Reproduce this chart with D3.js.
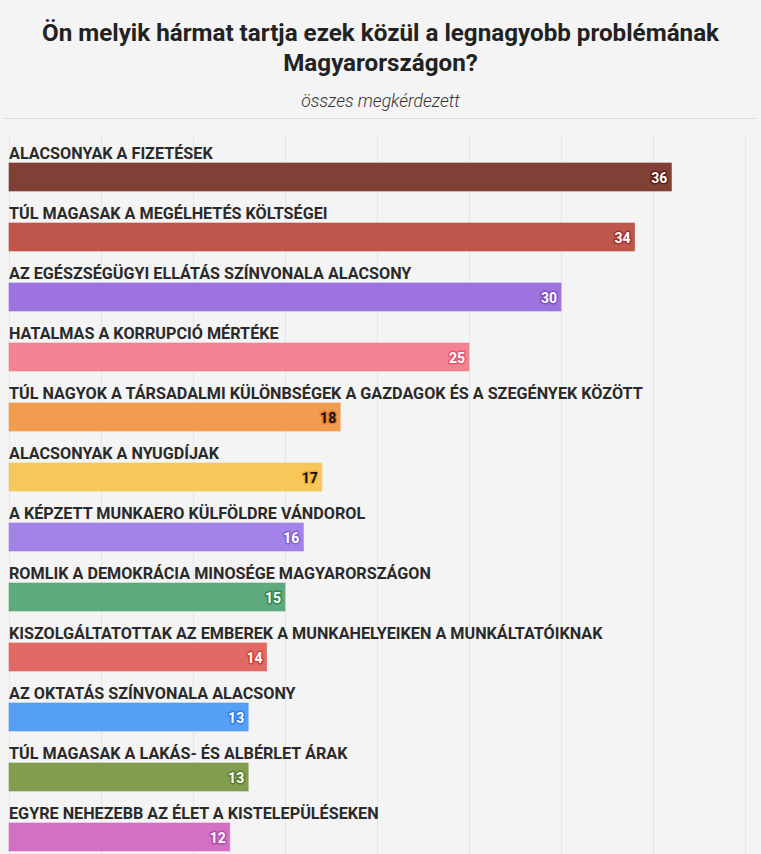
<!DOCTYPE html>
<html><head><meta charset="utf-8">
<script src="https://cdn.jsdelivr.net/npm/d3@7"></script>
<style>
html,body{margin:0;padding:0;background:#f4f4f4;}
svg{display:block;}
</style></head>
<body>
<script>
const categories = [
  "ALACSONYAK A FIZETÉSEK",
  "TÚL MAGASAK A MEGÉLHETÉS KÖLTSÉGEI",
  "AZ EGÉSZSÉGÜGYI ELLÁTÁS SZÍNVONALA ALACSONY",
  "HATALMAS A KORRUPCIÓ MÉRTÉKE",
  "TÚL NAGYOK A TÁRSADALMI KÜLÖNBSÉGEK A GAZDAGOK ÉS A SZEGÉNYEK KÖZÖTT",
  "ALACSONYAK A NYUGDÍJAK",
  "A KÉPZETT MUNKAERO KÜLFÖLDRE VÁNDOROL",
  "ROMLIK A DEMOKRÁCIA MINOSÉGE MAGYARORSZÁGON",
  "KISZOLGÁLTATOTTAK AZ EMBEREK A MUNKAHELYEIKEN A MUNKÁLTATÓIKNAK",
  "AZ OKTATÁS SZÍNVONALA ALACSONY",
  "TÚL MAGASAK A LAKÁS- ÉS ALBÉRLET ÁRAK",
  "EGYRE NEHEZEBB AZ ÉLET A KISTELEPÜLÉSEKEN"
];
const values = [36, 34, 30, 25, 18, 17, 16, 15, 14, 13, 13, 12];
const colors = ["#7b3a2f", "#bb5246", "#9a70de", "#f27e91", "#f2994a", "#f7c654", "#a17fe8", "#5aa67a", "#e0655f", "#4f9df5", "#7c9a4a", "#d36bc2"];
const haloColors = ["#5a1d14", "#a8322a", "#7d4fc8", "#e35a70", "#e8782a", "#f0b030", "#8560d8", "#2f8a55", "#cc3f3a", "#2f7fe8", "#5d7d2c", "#b84aa6"];
const labelDark = [false, false, false, false, true, true, false, false, false, false, false, false];
const xTicks = [0, 5, 10, 15, 20, 25, 30, 35, 40];
const title = ["Ön melyik hármat tartja ezek közül a legnagyobb problémának", "Magyarországon?"];
const subtitle = "összes megkérdezett";

const W = 761, H = 854;
const svg = d3.select("body").append("svg").attr("width", W).attr("height", H);
svg.append("rect").attr("width", W).attr("height", H).attr("fill", "#f4f4f4");

const font = "Roboto, 'Noto Sans', sans-serif";

svg.selectAll("text.title").data(title).join("text")
  .attr("class", "title")
  .attr("x", W / 2).attr("y", (d, i) => 41 + i * 30)
  .attr("text-anchor", "middle")
  .attr("font-family", font).attr("font-weight", 700).attr("font-size", 24.2)
  .attr("fill", "#222")
  .text(d => d);

svg.append("text").attr("x", W / 2).attr("y", 107)
  .attr("text-anchor", "middle")
  .attr("font-family", font).attr("font-style", "italic").attr("font-weight", 300).attr("font-size", 17.5)
  .attr("fill", "#333").text(subtitle);

svg.append("line").attr("x1", 4).attr("x2", 756).attr("y1", 118.5).attr("y2", 118.5)
  .attr("stroke", "#dcdcdc").attr("stroke-width", 1);

const x = d3.scaleLinear().domain([0, 40]).range([9, 745]);
const y = d3.scaleBand().domain(categories).range([133, 133 + 60 * categories.length]).paddingInner(0).paddingOuter(0);

svg.append("g").selectAll("line").data(xTicks).join("line")
  .attr("x1", d => Math.round(x(d)) + 0.5).attr("x2", d => Math.round(x(d)) + 0.5)
  .attr("y1", 135).attr("y2", H)
  .attr("stroke", "#e6e6e6").attr("stroke-width", 1);

const rows = svg.append("g").selectAll("g").data(categories).join("g");

rows.append("rect")
  .attr("x", x(0)).attr("y", d => y(d) + 30)
  .attr("width", (d, i) => x(values[i]) - x(0)).attr("height", 28)
  .attr("fill", (d, i) => colors[i]).attr("fill-opacity", 0.97)
  .attr("stroke", (d, i) => colors[i]).attr("stroke-opacity", 0.6);

rows.append("text")
  .attr("x", 9).attr("y", d => y(d) + 26)
  .attr("font-family", font).attr("font-weight", 700).attr("font-size", 16.2)
  .attr("fill", "#2a2a2a")
  .text(d => d);

rows.append("text")
  .attr("x", (d, i) => x(values[i]) - 4).attr("y", d => y(d) + 49.5)
  .attr("text-anchor", "end")
  .attr("font-family", font).attr("font-weight", 700).attr("font-size", 14)
  .attr("fill", (d, i) => labelDark[i] ? "#111" : "#fff")
  .attr("stroke", (d, i) => haloColors[i]).attr("stroke-width", 3).attr("stroke-linejoin", "round")
  .attr("paint-order", "stroke")
  .text((d, i) => values[i]);
</script>
</body></html>
